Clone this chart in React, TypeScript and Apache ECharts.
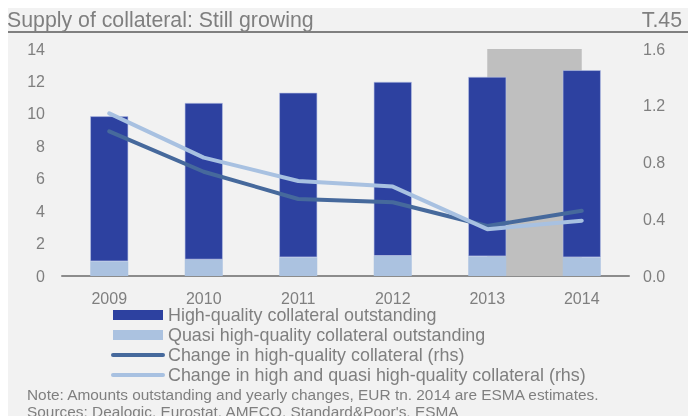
import React, { useEffect, useRef } from "react";
import * as echarts from "echarts";

const years = ["2009", "2010", "2011", "2012", "2013", "2014"];
const quasiHQ = [0.91, 1.02, 1.16, 1.24, 1.22, 1.16];
const highQuality = [8.94, 9.65, 10.14, 10.73, 11.06, 11.53];
const changeHQ = [1.02, 0.735, 0.543, 0.52, 0.352, 0.46];
const changeAll = [1.146, 0.834, 0.67, 0.63, 0.33, 0.39];
const estimateRange = ["2013", "2014"];

const FONT = "'Liberation Sans', Arial, sans-serif";
const GRAY = "#7f7f7f";

export default function App() {
  const ref = useRef<HTMLDivElement>(null);
  useEffect(() => {
    if (!ref.current) return;
    const chart = echarts.init(ref.current, undefined, { renderer: "svg" });
    const areaFrom = years.indexOf(estimateRange[0]) + 0.5;
    const areaTo = years.indexOf(estimateRange[1]) + 0.5;
    chart.setOption({
      animation: false,
      textStyle: { fontFamily: FONT },
      graphic: [
        { type: "rect", left: 8, top: 8, shape: { width: 680, height: 408 }, style: { fill: "#f2f2f2" }, z: -10, silent: true },
        { type: "line", shape: { x1: 8, y1: 32, x2: 688, y2: 32 }, style: { stroke: "#808080", lineWidth: 2 }, z: 5 },
        { type: "text", left: 27, top: 387, style: { text: "Note: Amounts outstanding and yearly changes, EUR tn. 2014 are ESMA estimates.", fontSize: 15.4, fill: GRAY, fontFamily: FONT } },
        { type: "text", left: 27, top: 404, style: { text: "Sources: Dealogic, Eurostat, AMECO, Standard&Poor's, ESMA", fontSize: 15.4, fill: GRAY, fontFamily: FONT } },
      ],
      title: [
        { text: "Supply of collateral: Still growing", left: 7, top: 9, padding: 0, textStyle: { fontSize: 21.3, fontWeight: "normal", color: GRAY, fontFamily: FONT } },
        { text: "T.45", right: 6, top: 9, padding: 0, textStyle: { fontSize: 21.3, fontWeight: "normal", color: GRAY, fontFamily: FONT } },
      ],
      grid: { left: 62, right: 59, top: 49, height: 227 },
      legend: {
        orient: "vertical",
        left: 111,
        top: 306,
        padding: 0,
        itemWidth: 50,
        itemHeight: 10,
        itemGap: 2,
        itemTextGap: 5,
        textStyle: { fontSize: 17.9, color: GRAY, lineHeight: 18, fontFamily: FONT },
        data: [
          { name: "High-quality collateral outstanding", icon: "rect", itemStyle: { borderWidth: 0 } },
          { name: "Quasi high-quality collateral outstanding", icon: "rect", itemStyle: { borderWidth: 0 } },
          { name: "Change in high-quality collateral (rhs)", itemStyle: { opacity: 0 }, lineStyle: { width: 4, cap: "round" } },
          { name: "Change in high and quasi high-quality collateral (rhs)", itemStyle: { opacity: 0 }, lineStyle: { width: 4, cap: "round" } },
        ],
      },
      xAxis: [
        {
          type: "category",
          data: years,
          axisLine: { lineStyle: { color: "#8c8c8c", width: 2 } },
          axisTick: { show: false },
          axisLabel: { fontSize: 16, color: GRAY, margin: 14 },
        },
        { type: "value", min: 0, max: years.length, show: false },
      ],
      yAxis: [
        {
          type: "value", min: 0, max: 14, interval: 2,
          splitLine: { show: false },
          axisLine: { show: false }, axisTick: { show: false },
          axisLabel: { fontSize: 16, color: GRAY, margin: 17 },
        },
        {
          type: "value", min: 0, max: 1.6, interval: 0.4,
          splitLine: { show: false },
          axisLine: { show: false }, axisTick: { show: false },
          axisLabel: { fontSize: 16, color: GRAY, margin: 14, formatter: (v: number) => v.toFixed(1) },
        },
      ],
      series: [
        {
          name: "estimates",
          type: "line", xAxisIndex: 1, yAxisIndex: 0, data: [], symbol: "none",
          markArea: {
            silent: true,
            itemStyle: { color: "#bfbfbf" },
            data: [[{ xAxis: areaFrom }, { xAxis: areaTo }]],
          },
        },
        {
          name: "Quasi high-quality collateral outstanding",
          type: "bar", stack: "out", barWidth: 38, data: quasiHQ,
          itemStyle: { color: "#abc2e0" },
        },
        {
          name: "High-quality collateral outstanding",
          type: "bar", stack: "out", barWidth: 38, data: highQuality,
          itemStyle: { color: "#2d41a0", borderColor: "#b8c2e6", borderWidth: 0.6 },
        },
        {
          name: "Change in high-quality collateral (rhs)",
          type: "line", yAxisIndex: 1, data: changeHQ, symbol: "none",
          lineStyle: { color: "#46699c", width: 4, cap: "round" }, itemStyle: { color: "#46699c" },
        },
        {
          name: "Change in high and quasi high-quality collateral (rhs)",
          type: "line", yAxisIndex: 1, data: changeAll, symbol: "none",
          lineStyle: { color: "#a8c1e1", width: 4, cap: "round" }, itemStyle: { color: "#a8c1e1" },
        },
      ],
    });
    return () => chart.dispose();
  }, []);
  return <div ref={ref} style={{ width: 688, height: 416, position: "fixed", left: 0, top: 0 }} />;
}
